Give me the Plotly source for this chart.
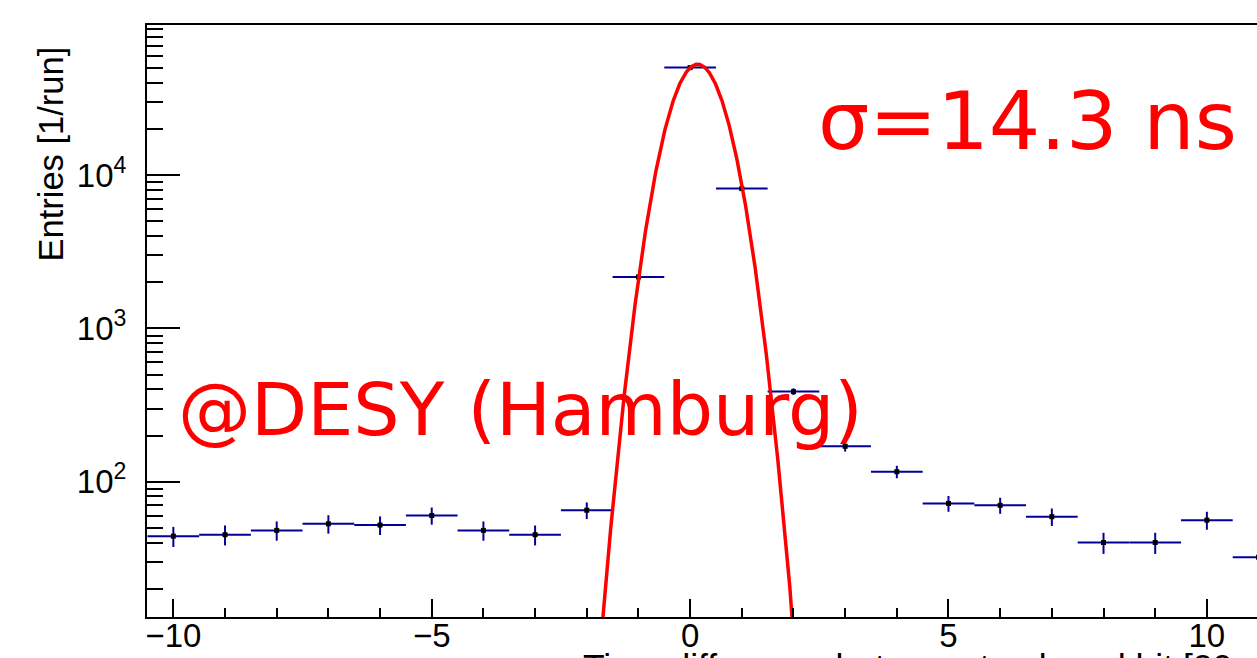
import numpy as np
import plotly.graph_objects as go

# ---- data ----
bin_centers = [-10, -9, -8, -7, -6, -5, -4, -3, -2, -1, 0, 1, 2, 3, 4, 5, 6, 7, 8, 9, 10, 11]
entries = [44, 45, 48, 53, 52, 60, 48, 45, 65, 2170, 50600, 8200, 387, 170, 116, 72, 70, 59, 40, 40, 56, 32]
entry_errors = [6.6, 6.7, 6.9, 7.3, 7.2, 7.7, 6.9, 6.7, 8.1, 46.6, 225, 90.6, 19.7, 13.0, 10.8, 8.5, 8.4, 7.7, 6.3, 6.3, 7.5, 5.7]
bin_half_width = 0.5

# Gaussian fit parameters (in bin units)
fit_amplitude = 53200
fit_mean = 0.145
fit_sigma = 0.45

y_major_vals = [100, 1000, 10000]
y_major_text = ["10<sup>2</sup>", "10<sup>3</sup>", "10<sup>4</sup>"]
y_minor_vals = [m * d for d in (10, 100, 1000, 10000) for m in range(2, 10)]

# ---- layout geometry ----
W, H = 1257, 658
L, T, B, R = 147, 25, 41, 0
plot_w = W - L - R
plot_h = H - T - B

def px_x(p):
    return (p - L) / plot_w

def px_y(p):
    return (H - B - p) / plot_h

fit_x = np.linspace(-3, 3, 601)
fit_y = fit_amplitude * np.exp(-0.5 * ((fit_x - fit_mean) / fit_sigma) ** 2)

blue = "#000099"

fig = go.Figure()
fig.add_trace(go.Scatter(
    x=bin_centers, y=entries, mode="markers",
    marker=dict(symbol="square", size=5, color="black"),
    error_x=dict(type="constant", value=bin_half_width, width=0, thickness=2, color=blue),
    error_y=dict(type="data", array=entry_errors, width=0, thickness=2, color=blue),
    showlegend=False, cliponaxis=True,
))
fig.add_trace(go.Scatter(
    x=fit_x, y=fit_y, mode="lines",
    line=dict(color="#ff0000", width=3.5),
    showlegend=False,
))

tickfont = dict(family="Liberation Sans, Arial, sans-serif", size=33, color="black")

fig.update_layout(
    width=W, height=H,
    margin=dict(l=L, r=R, t=T, b=B, pad=0, autoexpand=False),
    paper_bgcolor="white", plot_bgcolor="white",
    xaxis=dict(
        range=[-10.51, 10.97], showgrid=False, zeroline=False, automargin=False,
        showline=True, linecolor="black", linewidth=2, mirror=True,
        ticks="inside", ticklen=18, tickwidth=1.5, tickcolor="black",
        tickmode="linear", tick0=0, dtick=5,
        minor=dict(ticks="inside", ticklen=9, tickwidth=1.5, tickcolor="black", dtick=1, tick0=0, showgrid=False),
        tickfont=tickfont, ticklabelstandoff=-12,
    ),
    yaxis=dict(
        type="log", range=[1.1155, 4.9824], showgrid=False, zeroline=False, automargin=False,
        showline=True, linecolor="black", linewidth=2, mirror=False,
        ticks="inside", ticklen=33, tickwidth=1.5, tickcolor="black",
        tickmode="array", tickvals=y_major_vals, ticktext=y_major_text,
        minor=dict(ticks="inside", ticklen=16, tickwidth=1.5, tickcolor="black",
                   tickmode="array", tickvals=y_minor_vals, showgrid=False),
        tickfont=tickfont, ticklabelstandoff=12,
    ),
    annotations=[
        dict(text="Entries [1/run]", textangle=-90, xref="paper", yref="paper",
             x=px_x(50), y=px_y(154.5), xanchor="center", yanchor="middle", showarrow=False,
             font=dict(family="Liberation Sans, Arial, sans-serif", size=34.5, color="black")),
        dict(text="Time difference between track and hit [20 ns]", xref="paper", yref="paper",
             x=px_x(581), y=px_y(645), xanchor="left", yanchor="top", showarrow=False,
             font=dict(family="Liberation Sans, Arial, sans-serif", size=35.5, color="black")),
        dict(text="σ=14.3 ns", xref="paper", yref="paper",
             x=px_x(816), y=px_y(121), xanchor="left", yanchor="middle", showarrow=False,
             font=dict(family="DejaVu Sans", size=81, color="#ff0000")),
        dict(text="@DESY (Hamburg)", xref="paper", yref="paper",
             x=px_x(176), y=px_y(409), xanchor="left", yanchor="middle", showarrow=False,
             font=dict(family="DejaVu Sans", size=73, color="#ff0000")),
    ],
)

fig.write_html("out.html")
